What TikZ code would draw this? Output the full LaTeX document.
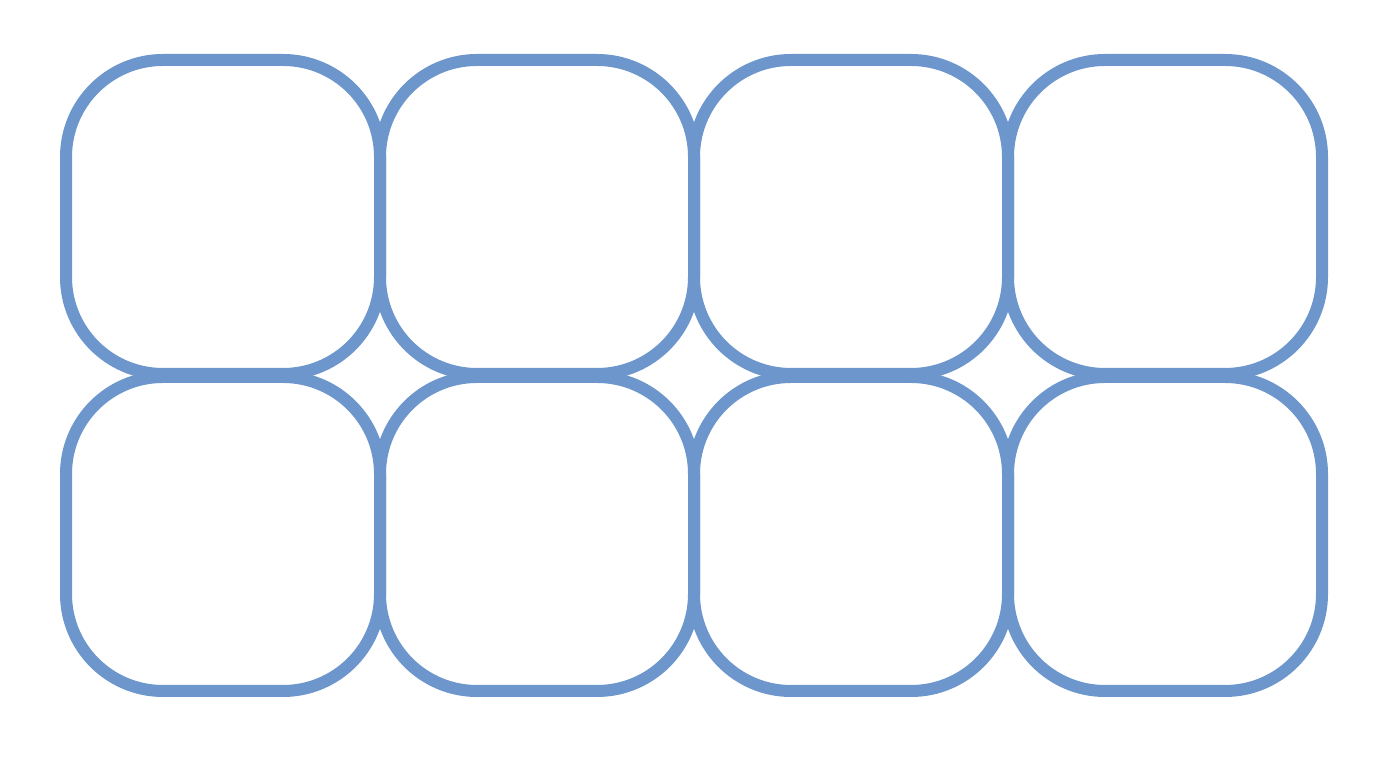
\documentclass[tikz,border=0pt]{standalone}
\usepackage{tikz}
\definecolor{cellblue}{RGB}{108,150,204}
\tikzstyle{cell}=[draw=cellblue, line width=0.24cm, rectangle,
    rounded corners=1.94cm, minimum width=6.28cm, minimum height=6.28cm]

\begin{document}
\begin{tikzpicture}
  \useasboundingbox (0,0) rectangle (27.88,15.16);
  % top row
  \node[cell] at (4.46, 10.82) (ta) {};
  \node[cell] at (10.74, 10.82) (tb) {};
  \node[cell] at (17.02, 10.82) (tc) {};
  \node[cell] at (23.30, 10.82) (td) {};
  % bottom row
  \node[cell] at (4.46, 4.48) (ba) {};
  \node[cell] at (10.74, 4.48) (bb) {};
  \node[cell] at (17.02, 4.48) (bc) {};
  \node[cell] at (23.30, 4.48) (bd) {};
\end{tikzpicture}
\end{document}
